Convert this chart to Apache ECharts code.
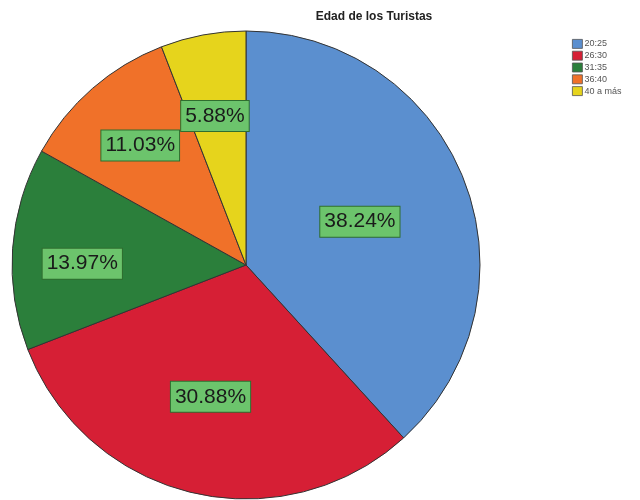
<!DOCTYPE html>
<html>
<head>
<meta charset="utf-8">
<script src="https://cdn.jsdelivr.net/npm/echarts@6/dist/echarts.min.js"></script>
<style>
	html, body { margin: 0; padding: 0; background: #fff; }
	#chart { width: 640px; height: 500px; }
</style>
</head>
<body>
<div id="chart"></div>
<script>
// Edad de los Turistas (n = 136)
var categories = ['20:25', '26:30', '31:35', '36:40', '40 a más']
var counts = [52, 42, 19, 15, 8]
var colors = ['#5b8fcf', '#d61f35', '#2b7f3b', '#f07129', '#e6d41c']
// nudge of each percentage box from the default inside spot
var labelOffsets = [[2, 0], [-8, 15], [-44, 7], [-27, -29], [-9, -31]]

var total = counts.reduce(function (a, b) { return a + b }, 0)

var myChart = echarts.init(document.getElementById('chart'))
var option = {
	animation: false,
	title: {
		text: 'Edad de los Turistas',
		left: 369,
		top: 6,
		textAlign: 'center',
		textStyle: {
			fontFamily: 'Liberation Sans',
			fontSize: 12,
			fontWeight: 'bold',
			color: '#222'
		}
	},
	legend: {
		orient: 'vertical',
		left: 567,
		top: 34,
		itemWidth: 10,
		itemHeight: 9,
		itemGap: 2,
		icon: 'rect',
		itemStyle: { borderColor: '#555', borderWidth: 0.8 },
		textStyle: { fontFamily: 'Liberation Sans', fontSize: 9, lineHeight: 9, color: '#555', padding: [0, 0, 0, -3] },
		data: categories
	},
	series: [{
		type: 'pie',
		center: [246, 265],
		radius: 234,
		startAngle: 90,
		clockwise: true,
		avoidLabelOverlap: false,
		data: categories.map(function (c, i) {
			return {
				name: c,
				value: counts[i],
				itemStyle: { color: colors[i] },
				label: { offset: labelOffsets[i] }
			}
		}),
		itemStyle: { borderColor: '#333', borderWidth: 1 },
		label: {
			show: true,
			position: 'inside',
			formatter: function (p) {
				return (p.value / total * 100).toFixed(2) + '%'
			},
			fontFamily: 'Liberation Sans',
			fontSize: 21,
			lineHeight: 22,
			color: '#1a1a1a',
			backgroundColor: '#6cc46c',
			borderColor: '#2f6e2f',
			borderWidth: 1,
			padding: [4, 4, 4, 4]
		},
		labelLine: { show: false },
		emphasis: { disabled: true }
	}]
}
myChart.setOption(option)
</script>
</body>
</html>
